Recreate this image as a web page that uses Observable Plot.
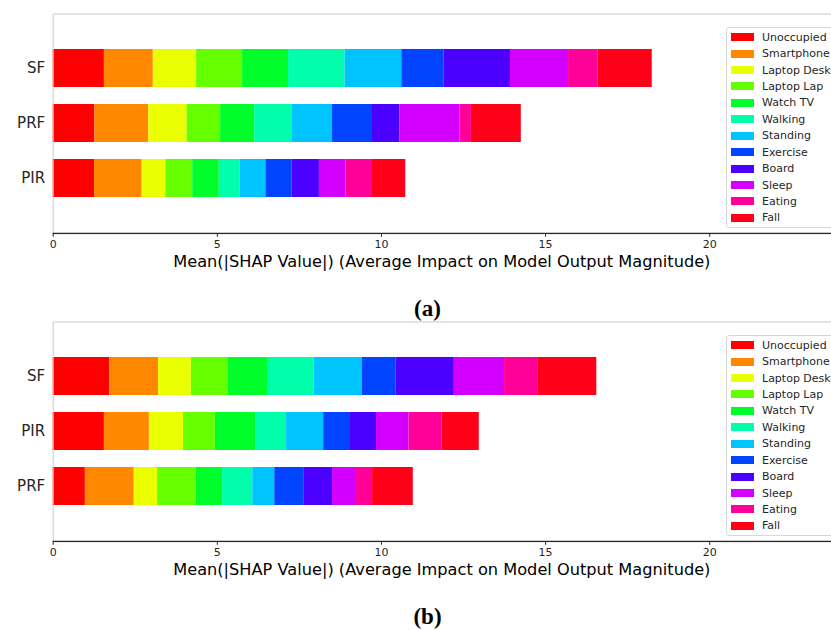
<!DOCTYPE html>
<html>
<head>
<meta charset="utf-8">
<script src="https://cdn.jsdelivr.net/npm/d3@7"></script>
<script src="https://cdn.jsdelivr.net/npm/@observablehq/plot@0.6"></script>
<style>
  html, body { margin: 0; padding: 0; background: #fff; overflow: hidden; width: 831px; height: 630px; }
  #root { position: relative; width: 831px; height: 630px; font-family: "DejaVu Sans", sans-serif; }
  .panel { position: absolute; left: 0; width: 840px; }
  .xlabel { position: absolute; left: 52.7px; width: 778.3px; text-align: center; font-size: 16.2px; color: #000; white-space: nowrap; }
  .caption { position: absolute; left: 0; width: 855px; text-align: center; font-family: "Liberation Serif", "DejaVu Serif", serif; font-size: 23px; color: #000; }
  .caption b { font-weight: bold; }
  .legend { position: absolute; left: 726px; width: 120px; border: 1px solid #d9d9d9; border-radius: 3px; background: #fff; padding: 1px 0 3px 3px; box-sizing: border-box; }
  .legend .item { height: 16.43px; display: flex; align-items: center; font-size: 11px; color: #262626; white-space: nowrap; }
  .legend .sw { width: 23px; height: 8px; margin-left: 1px; margin-right: 8px; flex: none; }
</style>
</head>
<body>
<div id="root"></div>
<script>
// ---- data ----
const activities = ["Unoccupied","Smartphone","Laptop Desk","Laptop Lap","Watch TV","Walking","Standing","Exercise","Board","Sleep","Eating","Fall"];
const activityColors = ["#ff0000","#ff8800","#eaff00","#66ff00","#00ff2a","#00ffaa","#00c4ff","#0044ff","#4c00ff","#d400ff","#ff0099","#ff0019"];

// panel (a)
const modelsA = ["SF","PRF","PIR"];
const sfA  = [1.56,1.49,1.32,1.40,1.40,1.72,1.73,1.29,2.02,1.77,0.90,1.65];
const prfA = [1.27,1.64,1.17,1.02,1.04,1.15,1.22,1.19,0.86,1.83,0.35,1.52];
const pirA = [1.26,1.45,0.72,0.82,0.81,0.64,0.78,0.80,0.83,0.81,0.78,1.04];

// panel (b)
const modelsB = ["SF","PIR","PRF"];
const sfB  = [1.72,1.49,1.00,1.13,1.19,1.42,1.47,1.03,1.77,1.53,1.03,1.78];
const pirB = [1.56,1.37,1.04,0.97,1.23,0.94,1.13,0.79,0.82,0.99,1.01,1.13];
const prfB = [0.98,1.49,0.71,1.18,0.80,0.92,0.67,0.90,0.86,0.73,0.49,1.24];

const xTicks = [0,5,10,15,20];
const xDomain = [0, 23.71];
const xLabel = "Mean(|SHAP Value|) (Average Impact on Model Output Magnitude)";
const captions = ["(a)","(b)"];

// ---- build ----
function rows(models, series) {
  const out = [];
  models.forEach((m, i) => {
    series[i].forEach((v, j) => out.push({model: m, activity: activities[j], value: v}));
  });
  return out;
}

const panels = [
  {models: modelsA, data: rows(modelsA, [sfA, prfA, pirA])},
  {models: modelsB, data: rows(modelsB, [sfB, pirB, prfB])}
];

const root = document.getElementById("root");
const H = 280, MT = 13.5, MB = 46.7, ML = 52.7, MR = 9, W = 840;

panels.forEach((p, k) => {
  const top = k * 308;
  const chart = Plot.plot({
    width: W,
    height: H,
    marginTop: MT,
    marginBottom: MB,
    marginLeft: ML,
    marginRight: MR,
    style: {fontFamily: "DejaVu Sans, sans-serif", color: "#262626", background: "transparent", overflow: "visible"},
    x: {domain: xDomain},
    y: {domain: p.models, paddingInner: 0.31, paddingOuter: 0.64},
    color: {domain: activities, range: activityColors},
    marks: [
      Plot.barX(p.data, {x: "value", y: "model", fill: "activity", order: activities}),
      Plot.frame({stroke: "#cccccc"}),
      Plot.axisX({ticks: xTicks, tickSize: 3.5, tickPadding: 3, fontSize: 11, label: null}),
      Plot.axisY({tickSize: 0, tickPadding: 8, fontSize: 15, label: null})
    ]
  });
  // bottom spine (dark) over the light frame
  const x = chart.scale("x");
  d3.select(chart).append("line")
    .attr("x1", x.range[0]).attr("x2", x.range[1])
    .attr("y1", H - MB).attr("y2", H - MB)
    .attr("stroke", "#262626").attr("stroke-width", 1.2);

  const wrap = document.createElement("div");
  wrap.className = "panel";
  wrap.style.top = top + "px";
  wrap.style.height = H + "px";
  wrap.appendChild(chart);
  root.appendChild(wrap);

  const lab = document.createElement("div");
  lab.className = "xlabel";
  lab.textContent = xLabel;
  lab.style.top = (top + 252) + "px";
  root.appendChild(lab);

  const cap = document.createElement("div");
  cap.className = "caption";
  cap.innerHTML = "<b>" + captions[k] + "</b>";
  cap.style.top = (top + 296) + "px";
  root.appendChild(cap);

  const leg = document.createElement("div");
  leg.className = "legend";
  leg.style.top = (top + 27) + "px";
  leg.style.height = "201px";
  activities.forEach((a, i) => {
    const it = document.createElement("div");
    it.className = "item";
    const sw = document.createElement("span");
    sw.className = "sw";
    sw.style.background = activityColors[i];
    it.appendChild(sw);
    it.appendChild(document.createTextNode(a));
    leg.appendChild(it);
  });
  root.appendChild(leg);
});
</script>
</body>
</html>
